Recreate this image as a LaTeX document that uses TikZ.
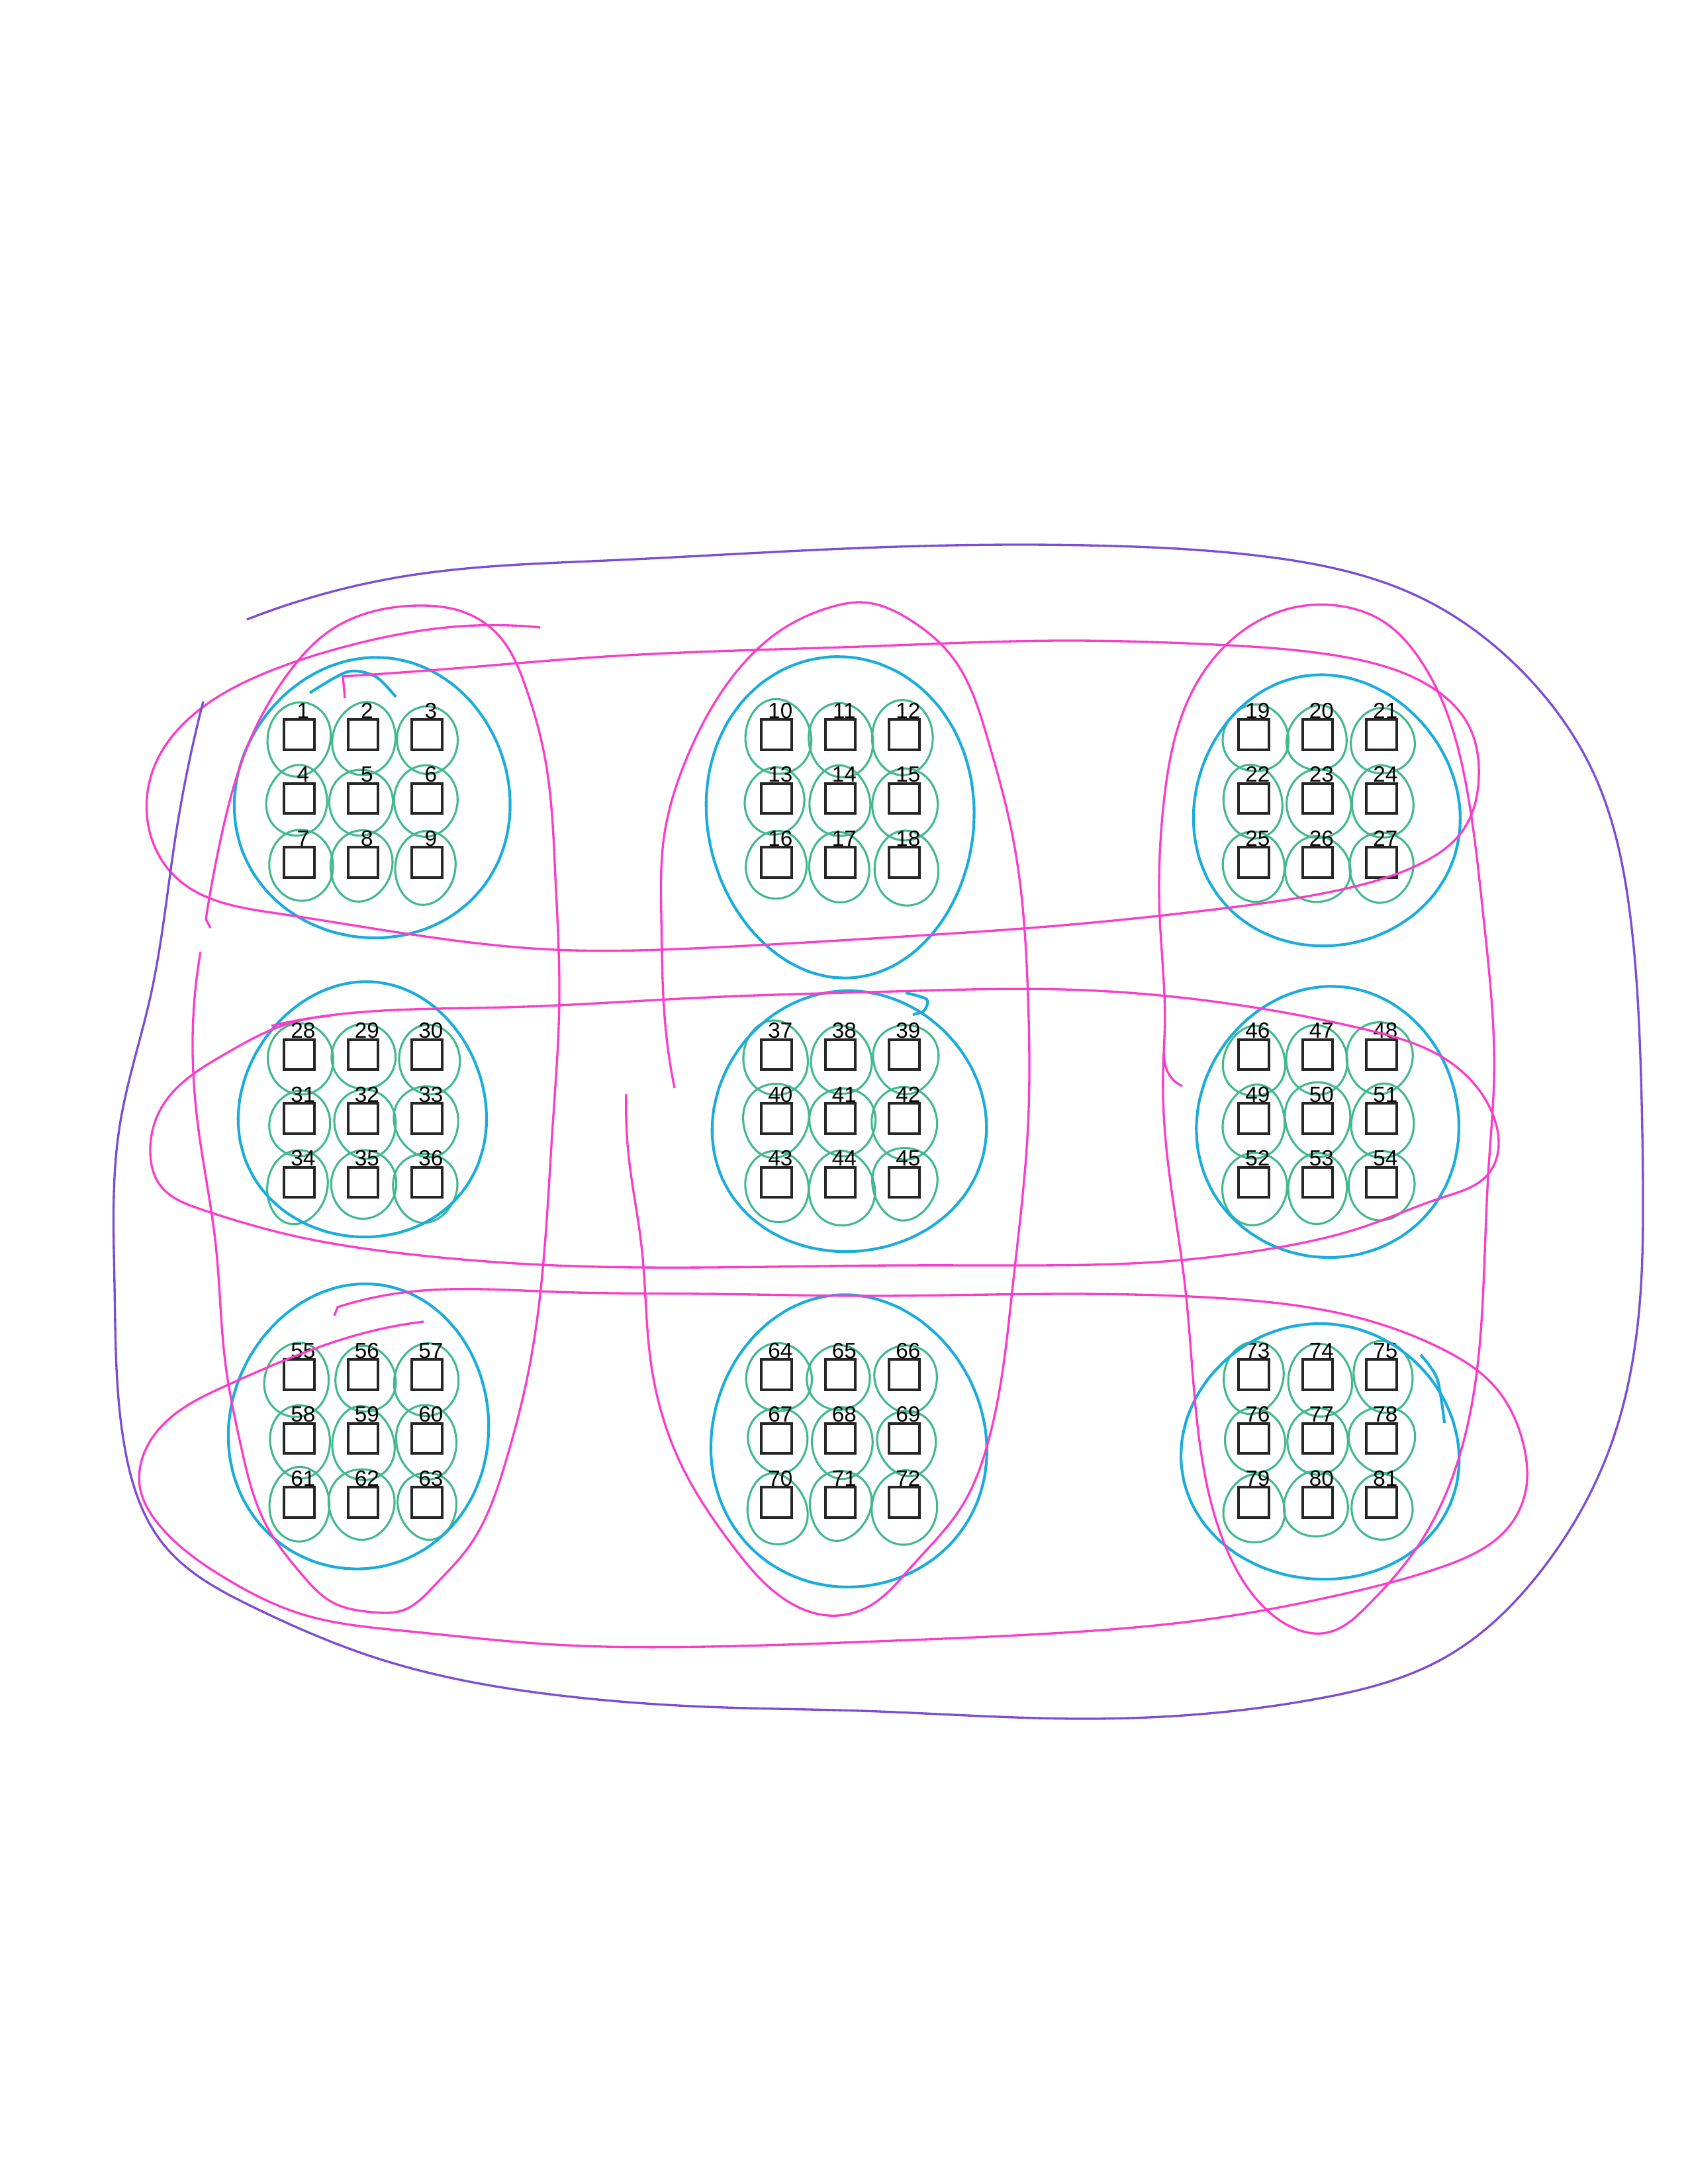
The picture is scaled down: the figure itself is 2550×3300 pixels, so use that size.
\documentclass[tikz,border=0pt]{standalone}
\usepackage{fontspec}
\newfontfamily\numfont{Liberation Sans}
\usepackage{tikz}
\usetikzlibrary{positioning,hobby}
\usepackage{xcolor}
\definecolor{loopgreen}{RGB}{65,185,140}
\definecolor{blockcyan}{RGB}{25,172,220}
\definecolor{bandpink}{RGB}{250,60,200}
\definecolor{outerpurple}{RGB}{125,75,215}

\begin{document}
\begin{tikzpicture}[x=0.2409pt,y=-0.2409pt,
  cellbox/.style={draw=black!85,line width=0.9pt,minimum size=11pt,inner sep=0pt},
  cellnum/.style={font=\numfont\fontsize{8}{8}\selectfont,inner sep=0pt,anchor=base},
  greenloop/.style={draw=loopgreen,line width=0.75pt},
  blockloop/.style={draw=blockcyan,line width=1pt},
  bandloop/.style={draw=bandpink,line width=0.8pt,use Hobby shortcut},
  outerloop/.style={draw=outerpurple,line width=0.8pt,use Hobby shortcut}]
\useasboundingbox[fill=white] (0,0) rectangle (2550,3300);

\pgfmathsetseed{2024}
\foreach \R in {0,1,2}
 \foreach \C in {0,1,2}
  \foreach \r in {0,1,2}
   \foreach \c in {0,1,2}{
    \pgfmathtruncatemacro\n{27*\R+9*\C+3*\r+\c+1}
    \pgfmathsetmacro\cx{452+721*\C+96.5*\c}
    \pgfmathsetmacro\cy{1110+483.5*\R+96.5*\r}
    \pgfmathsetmacro\ax{47+3*rand}
    \pgfmathsetmacro\ay{53+4*rand}
    \pgfmathsetmacro\eg{0.14*rand}
    \pgfmathsetmacro\rt{14*rand}
    \pgfmathsetmacro\dx{3*rand}
    \pgfmathsetmacro\dy{6+4*rand}
    \draw[greenloop,rotate around={\rt:(\cx,\cy)}]
      plot[smooth cycle,domain=0:345,samples=24,variable=\t]
      ({\cx+(\dx)+\ax*cos(\t)*(1+(\eg)*sin(\t))},{\cy+(\dy)+\ay*sin(\t)});
    \node[cellbox] (cell\n) at (\cx,\cy) {};
    \node[cellnum] (num\n) at ([xshift=1.4pt]cell\n.north) {\n};
   }

\foreach \bx/\by/\brx/\bry/\eg/\rt in {564/1205/208/212/0.06/-8,1270/1235/202/243/-0.05/4,
  2002/1224/201/205/0.07/10,549/1676/187/193/0.08/-6,1282/1694/207/197/0.06/5,
  2007/1695/198/205/0.05/-8,543/2155/196/216/0.04/-10,1281/2177/208/221/0.06/6,
  1995/2193/210/193/0.05/-5}
  \draw[blockloop,rotate around={\rt:(\bx,\by)}]
    plot[smooth cycle,domain=0:350,samples=36,variable=\t]
    ({\bx+\brx*cos(\t)*(1+(\eg)*sin(\t))},{\by+\bry*sin(\t)});
\draw[blockloop] plot[smooth] coordinates {(468,1047) (525,1015) (567,1022) (598,1053)};
\draw[blockloop] plot[smooth] coordinates {(1368,1500) (1400,1510) (1396,1527) (1379,1533)};
\draw[blockloop] plot[smooth] coordinates {(2146,2047) (2171,2083) (2182,2150)};

\draw[bandloop] (816,948) .. (686,947) .. (533,974) .. (418,1010) .. (303,1071)
  .. (234,1156) .. (223,1241) .. (265,1325) .. (418,1380) .. (609,1410) .. (839,1435)
  .. (1068,1432) .. (1350,1416) .. (1606,1398) .. (1836,1374) .. (2027,1344) .. (2142,1307)
  .. (2211,1253) .. (2234,1174) .. (2218,1095) .. (2157,1035) .. (2027,992) .. (1836,974)
  .. (1606,968) .. (1300,977) .. (915,992) .. (686,1010) .. (518,1022) -- (521,1055);
\draw[bandloop] (410,1550) .. (471,1538) .. (762,1522) .. (1068,1507) .. (1350,1498)
  .. (1606,1495) .. (1912,1525) .. (2065,1556) .. (2180,1598) .. (2257,1689) .. (2264,1730)
  .. (2249,1773) .. (2180,1809) .. (2065,1852) .. (1912,1888) .. (1759,1906) .. (1530,1912)
  .. (1350,1912) .. (1068,1915) .. (839,1912) .. (609,1894) .. (456,1870) .. (303,1827)
  .. (242,1791) .. (227,1740) .. (242,1677) .. (341,1592) .. (420,1552) .. (500,1535);
\draw[bandloop] (640,1997) .. (571,2009) .. (456,2045) .. (341,2094) .. (265,2136)
  .. (215,2203) .. (211,2245) .. (242,2306) .. (341,2385) .. (456,2439) .. (609,2464)
  .. (839,2485) .. (1068,2488) .. (1350,2479) .. (1606,2467) .. (1836,2445) .. (2027,2409)
  .. (2180,2367) .. (2280,2306) .. (2306,2245) .. (2302,2185) .. (2257,2094) .. (2180,2039)
  .. (2027,1985) .. (1836,1961) .. (1606,1955) .. (1300,1958) .. (1068,1955) .. (839,1952)
  .. (609,1953) .. (510,1975) -- (505,1988);
\draw[bandloop] (303,1438) .. (291,1568) .. (299,1700) .. (326,1882) .. (341,2064)
  .. (364,2185) .. (403,2306) .. (456,2379) .. (502,2421) .. (563,2436) .. (609,2433)
  .. (655,2397) .. (709,2336) .. (762,2215) .. (800,2064) .. (823,1882) .. (835,1700)
  .. (845,1507) .. (839,1325) .. (823,1144) .. (793,1035) .. (755,962) .. (701,925)
  .. (632,915) .. (571,922) .. (494,956) .. (441,1010) .. (380,1113) .. (334,1265)
  .. (311,1389) -- (318,1402);
\draw[bandloop] (946,1653) .. (950,1750) .. (969,1882) .. (984,2064) .. (1030,2215)
  .. (1107,2336) .. (1183,2415) .. (1252,2441) .. (1313,2427) .. (1377,2367) .. (1453,2276)
  .. (1491,2185) .. (1530,1942) .. (1553,1700) .. (1553,1507) .. (1530,1265) .. (1491,1113)
  .. (1438,992) .. (1377,938) .. (1300,910) .. (1260,916) .. (1183,950) .. (1107,1022)
  .. (1038,1144) .. (1003,1265) .. (999,1386) .. (1007,1568) .. (1019,1644);
\draw[bandloop] (1759,1574) .. (1759,1700) .. (1790,1942) .. (1813,2185) .. (1851,2336)
  .. (1897,2415) .. (1950,2458) .. (2004,2467) .. (2065,2427) .. (2142,2336) .. (2200,2215)
  .. (2232,2064) .. (2241,1942) .. (2249,1761) .. (2257,1628) .. (2241,1386) .. (2218,1204)
  .. (2188,1083) .. (2142,992) .. (2088,938) .. (2027,916) .. (1950,919) .. (1866,962)
  .. (1797,1053) .. (1759,1204) .. (1752,1386) .. (1759,1568) .. (1767,1625) .. (1786,1641);

\draw[outerloop] (373,936) .. (456,907) .. (609,871) .. (915,847) .. (1300,828)
  .. (1683,825) .. (1912,841) .. (2142,901) .. (2295,1010) .. (2410,1174) .. (2463,1386)
  .. (2479,1628) .. (2482,1800) .. (2479,1942) .. (2433,2185) .. (2333,2367) .. (2180,2506)
  .. (1989,2567) .. (1644,2597) .. (1300,2585) .. (1068,2579) .. (839,2561) .. (571,2506)
  .. (380,2427) .. (249,2336) .. (188,2185) .. (173,1942) .. (181,1700) .. (227,1507)
  .. (265,1265) .. (307,1060);
\end{tikzpicture}
\end{document}
